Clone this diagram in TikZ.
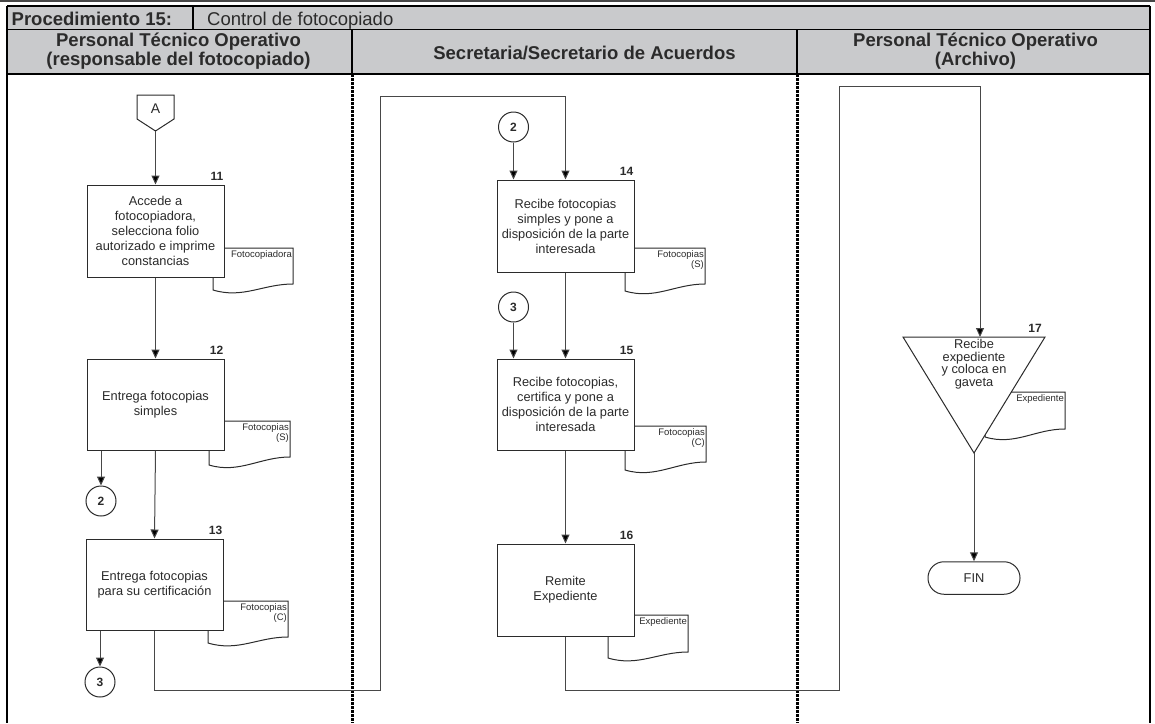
\documentclass[tikz,border=0pt]{standalone}
\usepackage{fontspec}
\setmainfont{Liberation Sans}
\usetikzlibrary{arrows.meta,calc}
\definecolor{hdrgray}{HTML}{C9CACC}
\definecolor{ink}{HTML}{2B2B2B}
\definecolor{wire}{HTML}{474747}

\tikzset{
  hdrline/.style={line width=1.3pt, draw=black},
  lanesep/.style={line width=3pt, dash pattern=on 3pt off 1pt, draw=black},
  stepbox/.style={draw=ink, line width=1pt, fill=white, minimum width=137pt,
    minimum height=92pt, inner sep=0pt, align=center, text=ink,
    font=\fontsize{12.8}{15}\selectfont},
  docline/.style={draw=ink, line width=1pt, fill=white},
  doclbl/.style={inner sep=0.5pt, anchor=north east, align=right, text=ink,
    font=\fontsize{9.5}{10.5}\selectfont},
  stepno/.style={inner sep=0pt, anchor=south east, xshift=-1pt, yshift=4pt, text=ink,
    font=\fontsize{12}{12}\selectfont\bfseries},
  joint/.style={circle, draw=ink, line width=1pt, fill=white, minimum size=30pt,
    inner sep=0pt, text=ink, font=\fontsize{12}{12}\selectfont\bfseries},
  flow/.style={draw=wire, line width=1pt, -{Triangle[length=9pt,width=8pt,fill=black]}},
  hdrtxt/.style={font=\fontsize{18.5}{19.5}\selectfont\bfseries, align=center,
    inner sep=0pt, text=ink},
}

% document symbol: left x, right x, top y, right bottom y, left bottom y
\newcommand\docsym[5]{%
  \draw[docline] (#1,#3) -- (#2,#3) -- (#2,#4)
    .. controls (#2-30,#4) and (#1+30,#5+9) .. (#1,#5) -- cycle;}

\begin{document}
\begin{tikzpicture}[x=1pt,y=-1pt]
\useasboundingbox (0,0) rectangle (1155,723);

% ---------- header ----------
\fill[hdrgray] (7,6) rectangle (1150,74);
\draw[wire, line width=1.4pt] (0,0.8) -- (1155,0.8);
\draw[hdrline] (7,6) -- (1150,6);
\draw[hdrline] (7,29.3) -- (1150,29.3);
\draw[hdrline] (7,74) -- (1150,74);
\draw[hdrline] (7,6) -- (7,723);
\draw[hdrline] (1150,6) -- (1150,723);
\draw[hdrline] (193,6) -- (193,29.3);
\draw[hdrline] (352,29.3) -- (352,74);
\draw[hdrline] (797,29.3) -- (797,74);
\draw[lanesep] (352,74) -- (352,723);
\draw[lanesep] (797,74) -- (797,723);

\node[anchor=base west, inner sep=0pt, text=ink, font=\fontsize{18.5}{19.5}\selectfont\bfseries]
  (proc) at (11.5,25.8) {Procedimiento 15:};
\node[anchor=base west, inner sep=0pt, text=ink, font=\fontsize{18.5}{19.5}\selectfont]
  (title) at (207,25.8) {Control de fotocopiado};
\node[hdrtxt] (lane1) at (178.5,51) {Personal Técnico Operativo\\(responsable del fotocopiado)};
\node[hdrtxt] (lane2) at (584.5,53) {Secretaria/Secretario de Acuerdos};
\node[hdrtxt] (lane3) at (975.5,51) {Personal Técnico Operativo\\(Archivo)};

% ---------- documents (behind the steps) ----------
\docsym{213}{293}{248}{284}{290}
\docsym{209}{290}{421}{457}{465}
\docsym{208}{288}{601}{637}{643}
\docsym{625}{705}{248}{284}{291}
\docsym{625}{706}{426}{462}{470}
\docsym{608}{688}{615}{652}{658}
\docsym{985}{1065}{392}{429}{437}

% ---------- lane 1 ----------
\draw[docline] (137,95) -- (174,95) -- (174,119) -- (155.5,131) -- (137,119) -- cycle;
\node[inner sep=0pt, text=ink, font=\fontsize{14}{14}\selectfont] (offA) at (155.5,109) {A};
\coordinate (offAtip) at (155.5,131);

\node[stepbox] (b11) at (155.5,231) {Accede a\\fotocopiadora,\\selecciona folio\\autorizado e imprime\\constancias};
\node[stepbox, minimum height=91pt] (b12) at (155.5,404.5) {Entrega fotocopias\\simples};
\node[stepbox, minimum height=91pt] (b13) at (154.5,584.5) {Entrega fotocopias\\para su certificación};
\node[stepno] (n11) at (b11.north east) {11};
\node[stepno] (n12) at (b12.north east) {12};
\node[stepno] (n13) at (b13.north east) {13};

\node[joint] (c2a) at (101,501) {2};
\node[joint] (c3a) at (100,682) {3};

% ---------- lane 2 ----------
\node[joint] (c2b) at (513.5,127) {2};
\node[joint] (c3b) at (513.5,307) {3};
\node[stepbox] (b14) at (565.5,226) {Recibe fotocopias\\simples y pone a\\disposición de la parte\\interesada};
\node[stepbox, minimum height=91pt] (b15) at (565.5,404.5) {Recibe fotocopias,\\certifica y pone a\\disposición de la parte\\interesada};
\node[stepbox] (b16) at (565.5,590) {Remite\\Expediente};
\node[stepno] (n14) at (b14.north east) {14};
\node[stepno] (n15) at (b15.north east) {15};
\node[stepno] (n16) at (b16.north east) {16};

% ---------- lane 3 ----------
\coordinate (tl) at (903,337);
\coordinate (tr) at (1045,337);
\coordinate (tapex) at (974,453);
\coordinate (tin) at (980,337);
\draw[docline] (tl) -- (tr) -- (tapex) -- cycle;
\node[align=center, inner sep=0pt, text=ink, font=\fontsize{12.8}{12.6}\selectfont] (t17)
  at (974,364) {Recibe\\expediente\\y coloca en\\gaveta};
\node[stepno, xshift=-2pt] (n17) at (tr) {17};
\node[draw=ink, line width=1pt, fill=white, rounded corners=16pt, minimum width=92pt,
  minimum height=32.5pt, inner sep=0pt, text=ink, font=\fontsize{12.8}{15}\selectfont]
  (fin) at (974,578) {FIN};

% ---------- document captions ----------
\node[doclbl] (d11) at (292.5,249.5) {Fotocopiadora};
\node[doclbl] (d12) at (289.5,422.5) {Fotocopias\\(S)};
\node[doclbl] (d13) at (287.5,602.5) {Fotocopias\\(C)};
\node[doclbl] (d14) at (704.5,249.5) {Fotocopias\\(S)};
\node[doclbl] (d15) at (705.5,427.5) {Fotocopias\\(C)};
\node[doclbl] (d16) at (687.5,616.5) {Expediente};
\node[doclbl] (d17) at (1064.5,393.5) {Expediente};

% ---------- connectors ----------
\coordinate (j1) at (380,690);
\coordinate (j2) at (380,96);
\coordinate (j3) at (839,690);
\coordinate (j4) at (839,86);

\draw[flow] (offAtip) -- (b11.north);
\draw[flow] (b11.south) -- (b12.north);
\draw[flow] (b12.south -| c2a) -- (c2a.north);
\draw[flow] (b12.south) -- (b13.north);
\draw[flow] (b13.south -| c3a) -- (c3a.north);
\draw[flow] (b13.south) |- (j1) -- (j2) -| (b14.north);
\draw[flow] (c2b.south) -- (c2b |- b14.north);
\draw[flow] (b14.south) -- (b15.north);
\draw[flow] (c3b.south) -- (c3b |- b15.north);
\draw[flow] (b15.south) -- (b16.north);
\draw[flow] (b16.south) |- (j3) -- (j4) -| (tin);
\draw[flow] (tapex) -- (fin.north);

\end{tikzpicture}
\end{document}
